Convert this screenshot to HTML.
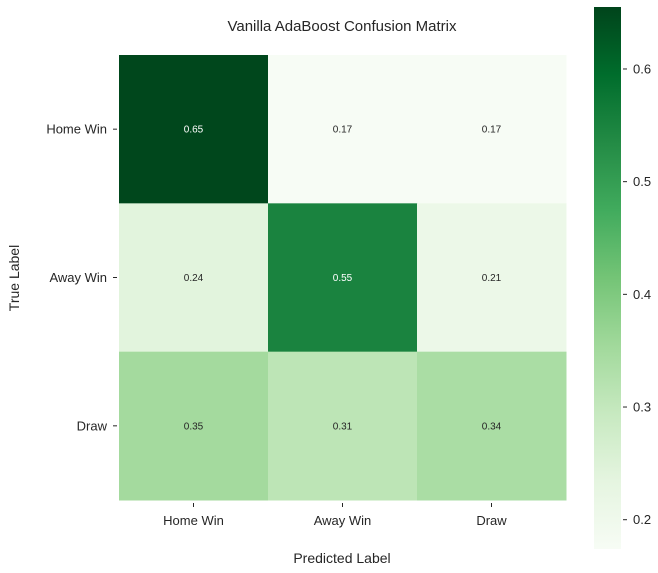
<!DOCTYPE html>
<html><head><meta charset="utf-8"><style>
body{margin:0;background:#fff;}
svg{display:block;font-family:"Liberation Sans",Arial,sans-serif;}
</style></head><body>
<svg id="c" width="658" height="573">
<text x="342" y="31" text-anchor="middle" font-size="15" fill="#262626">Vanilla AdaBoost Confusion Matrix</text>
<text x="342" y="563" text-anchor="middle" font-size="14" fill="#262626">Predicted Label</text>
<text transform="translate(19,278) rotate(-90)" text-anchor="middle" font-size="14" fill="#262626">True Label</text>
<defs><linearGradient id="g" x1="0" y1="1" x2="0" y2="0"></linearGradient></defs>
</svg>
<script>
const labels=["Home Win","Away Win","Draw"];
const row0=[0.65,0.17,0.17];
const row1=[0.24,0.55,0.21];
const row2=[0.35,0.31,0.34];
const cbTicks=[0.2,0.3,0.4,0.5,0.6];
const vmin=0.174, vmax=0.655;
const rows=[row0,row1,row2];
const stops=["#f7fcf5","#e5f5e0","#c7e9c0","#a1d99b","#74c476","#41ab5d","#238b45","#006d2c","#00441b"];
function hex(h){return [1,3,5].map(i=>parseInt(h.substr(i,2),16));}
function cmap(t){t=Math.max(0,Math.min(1,t));const p=t*8,i=Math.min(7,Math.floor(p)),f=p-i;const a=hex(stops[i]),b=hex(stops[i+1]);return `rgb(${a.map((v,k)=>Math.round(v+(b[k]-v)*f)).join(',')})`;}
const svg=document.getElementById('c');const NS="http://www.w3.org/2000/svg";
function el(t,a,txt){const e=document.createElementNS(NS,t);for(const k in a)e.setAttribute(k,a[k]);if(txt!=null)e.textContent=txt;svg.appendChild(e);return e;}
const X0=119,Y0=55,W=447,H=445,cw=W/3,ch=H/3;
rows.forEach((r,i)=>r.forEach((v,j)=>{
 const t=(v-vmin)/(vmax-vmin);
 const c=el('rect',{x:X0+j*cw,y:Y0+i*ch,width:cw+0.5,height:ch+0.5,fill:cmap(t)});
 
 
 const a=el('text',{x:X0+(j+0.5)*cw,y:Y0+(i+0.5)*ch+3.5,'text-anchor':'middle','font-size':'10',fill:t>0.6?'#fff':'#262626'},v.toFixed(2));
 
 
}));
labels.forEach((l,k)=>{
 const xc=X0+(k+0.5)*cw;
 el('line',{x1:xc,x2:xc,y1:Y0+H+3,y2:Y0+H+7,stroke:'#262626'});
 const xl=el('text',{x:xc,y:Y0+H+25,'text-anchor':'middle','font-size':'13',fill:'#262626'},l);
 
 
 const yc=Y0+(k+0.5)*ch;
 el('line',{x1:X0-6,x2:X0-2,y1:yc,y2:yc,stroke:'#262626'});
 const yl=el('text',{x:X0-12,y:yc+4.5,'text-anchor':'end','font-size':'13',fill:'#262626'},l);
 
 
});
// colorbar
const CX=594,CW=27,CY0=7,CY1=549;
const g=document.getElementById('g');
stops.forEach((s,i)=>{const st=document.createElementNS(NS,'stop');st.setAttribute('offset',i/8);st.setAttribute('stop-color',s);g.appendChild(st);});
const cb=el('rect',{x:CX,y:CY0,width:CW,height:CY1-CY0,fill:'url(#g)'});


function cy(v){return CY1-(v-vmin)/(vmax-vmin)*(CY1-CY0);}
cbTicks.forEach(v=>{
 const y=cy(v);
 el('line',{x1:CX+CW+2,x2:CX+CW+6,y1:y,y2:y,stroke:'#262626'});
 const t=el('text',{x:CX+CW+12,y:y+4.5,'font-size':'13',fill:'#262626'},v.toFixed(1));
 
 
});
</script>
</body></html>
